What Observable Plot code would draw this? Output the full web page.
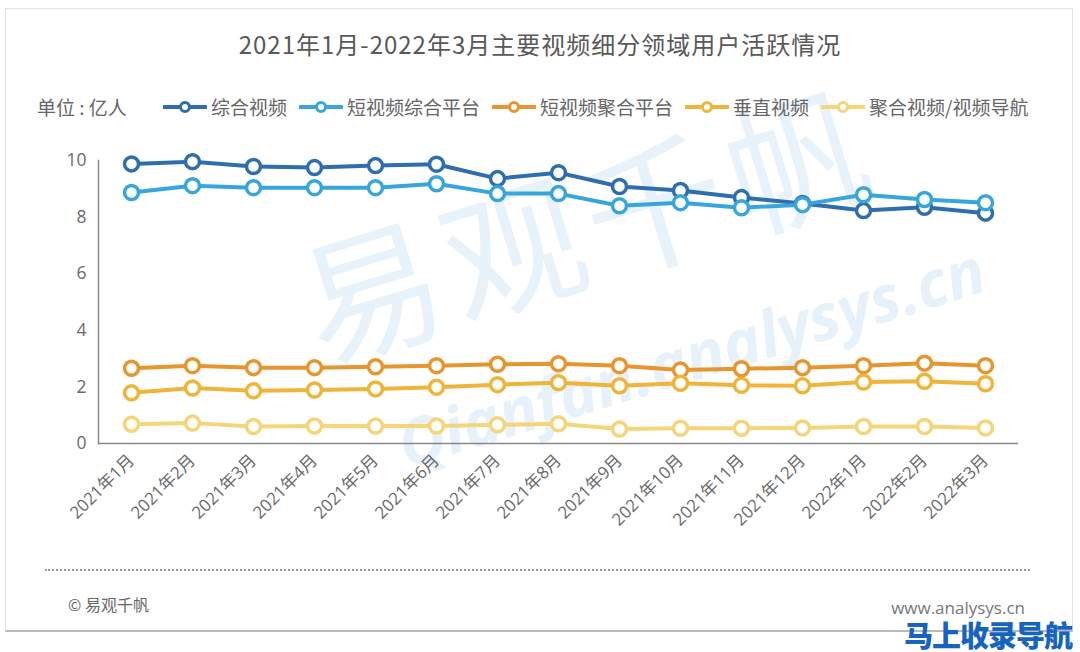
<!DOCTYPE html>
<html><head><meta charset="utf-8">
<script src="https://cdn.jsdelivr.net/npm/d3@7"></script>
<script src="https://cdn.jsdelivr.net/npm/@observablehq/plot@0.6"></script>
<style>
body{margin:0;background:#fff;}
#wrap{position:relative;width:1080px;height:652px;overflow:hidden;font-family:"Noto Sans CJK SC","Noto Sans",sans-serif;background:#fff;}
#card{position:absolute;left:5px;top:8px;width:1068px;height:624px;border:1px solid #e2e2e2;border-bottom:2px solid #b9b9b9;box-sizing:border-box;}
#title{position:absolute;left:0;width:1080px;top:27px;text-align:center;font-size:24px;color:#595959;letter-spacing:1px;line-height:34px;}
#unit{position:absolute;left:37px;top:94px;font-size:19px;color:#666;line-height:26px;}
#legend{position:absolute;left:163px;top:94px;display:flex;align-items:center;font-size:19px;color:#666;line-height:26px;}
.item{display:flex;align-items:center;margin-right:12px;}
.item svg{margin-right:4px;}
#chart{position:absolute;left:0;top:140px;}
#wm1{position:absolute;left:282px;top:238px;font-size:140px;line-height:140px;color:#e8f2fb;transform:rotate(-17deg);transform-origin:0 0;white-space:nowrap;font-weight:400;letter-spacing:8px;}
#wm2{position:absolute;left:390px;top:415px;font-size:64px;line-height:64px;color:#e6f1fa;transform:rotate(-17deg);transform-origin:0 0;white-space:nowrap;font-weight:700;font-style:italic;font-family:"Open Sans",sans-serif;}
#dots{position:absolute;left:45px;width:985px;top:569px;border-top:2px dotted #999;}
#copy{position:absolute;left:68px;top:592px;font-size:16px;color:#666;}
#site{position:absolute;right:55px;top:598px;font-size:17px;line-height:20px;color:#777;font-family:"Open Sans",sans-serif;}
#mark{position:absolute;left:904px;top:619px;font-size:29px;line-height:30px;font-weight:900;color:#1764c0;letter-spacing:-1px;white-space:nowrap;}
</style></head><body>
<div id="wrap">
  <div id="card"></div>
  <div id="wm1">易观千帆</div>
  <div id="wm2">Qianfan.analysys.cn</div>
  <div id="title">2021年1月-2022年3月主要视频细分领域用户活跃情况</div>
  <div id="unit">单位 : 亿人</div>
  <div id="legend"></div>
  <div id="chart"></div>
  <div id="dots"></div>
  <div id="copy">© 易观千帆</div>
  <div id="site">www.analysys.cn</div>
  <div id="mark">马上收录导航</div>
</div>
<script>
const months = ["2021年1月","2021年2月","2021年3月","2021年4月","2021年5月","2021年6月","2021年7月","2021年8月","2021年9月","2021年10月","2021年11月","2021年12月","2022年1月","2022年2月","2022年3月"];
const seriesNames = ["综合视频","短视频综合平台","短视频聚合平台","垂直视频","聚合视频/视频导航"];
const seriesColors = ["#2f6eae","#36a6dc","#e7952f","#efb43a","#f4d57a"];
const zongheShipin = [9.88, 9.96, 9.79, 9.75, 9.82, 9.87, 9.36, 9.57, 9.08, 8.94, 8.69, 8.48, 8.23, 8.35, 8.14];
const duanZonghe = [8.87, 9.11, 9.04, 9.04, 9.04, 9.18, 8.83, 8.83, 8.40, 8.51, 8.33, 8.44, 8.79, 8.62, 8.51];
const duanJuhe = [2.66, 2.75, 2.68, 2.68, 2.71, 2.75, 2.80, 2.82, 2.75, 2.60, 2.64, 2.68, 2.75, 2.84, 2.75];
const chuizhi = [1.79, 1.96, 1.86, 1.89, 1.93, 1.99, 2.08, 2.15, 2.04, 2.13, 2.06, 2.04, 2.17, 2.20, 2.11];
const juheDaohang = [0.68, 0.72, 0.60, 0.62, 0.62, 0.62, 0.66, 0.70, 0.51, 0.54, 0.54, 0.55, 0.60, 0.60, 0.55];
const yTicks = [0, 2, 4, 6, 8, 10];

const allValues = [zongheShipin, duanZonghe, duanJuhe, chuizhi, juheDaohang];
const data = [];
seriesNames.forEach((s, i) => months.forEach((m, j) => data.push({series: s, month: m, value: allValues[i][j]})));

// legend
const legend = document.getElementById("legend");
seriesNames.forEach((s, i) => {
  const it = document.createElement("div");
  it.className = "item";
  it.innerHTML = `<svg width="44" height="14"><line x1="1" x2="43" y1="7" y2="7" stroke="${seriesColors[i]}" stroke-width="4" stroke-linecap="round"/><circle cx="22" cy="7" r="4.5" fill="white" stroke="${seriesColors[i]}" stroke-width="3"/></svg><span>${s}</span>`;
  legend.appendChild(it);
});

const font = '"Open Sans","Noto Sans CJK SC",sans-serif';
const chart = Plot.plot({
  width: 1080,
  height: 420,
  marginLeft: 98,
  marginRight: 62,
  marginTop: 20,
  marginBottom: 117,
  style: {background: "transparent", fontFamily: font, overflow: "visible"},
  x: {type: "point", domain: months, padding: 0.5, label: null},
  y: {domain: [0, 10], ticks: yTicks, label: null},
  color: {domain: seriesNames, range: seriesColors},
  marks: [
    Plot.frame({anchor: "left", stroke: "#888", strokeWidth: 1.5}),
    Plot.ruleY([0], {stroke: "#888", strokeWidth: 1.5}),
    Plot.axisY({ticks: yTicks, tickSize: 0, tickPadding: 12, fontSize: 17.5, fill: "#6a6a6a", label: null}),
    Plot.axisX({tickSize: 0, tickRotate: -45, tickPadding: 14, fontSize: 17, fill: "#6a6a6a", label: null}),
    Plot.line(data, {x: "month", y: "value", z: "series", stroke: "series", strokeWidth: 4}),
    Plot.dot(data, {x: "month", y: "value", stroke: "series", fill: "white", r: 7, strokeWidth: 3.5})
  ]
});
document.getElementById("chart").appendChild(chart);
</script>
</body></html>
